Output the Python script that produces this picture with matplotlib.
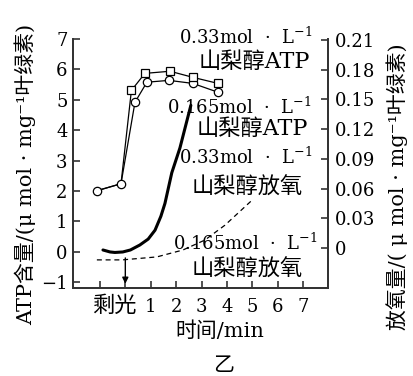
import matplotlib
matplotlib.use("Agg")
import matplotlib.pyplot as plt

plt.rcParams['font.family'] = ['DejaVu Serif', 'Noto Sans CJK SC']
plt.rcParams['mathtext.fontset'] = 'dejavuserif'

# ATP content (left axis), time in min (0 = light off)
base_t = [-1.12, -0.17]
base_atp = [2.01, 2.24]
sq_t = [0.24, 0.77, 1.76, 2.66, 3.65]          # 0.33 mol/L sorbitol ATP
sq_atp = [5.31, 5.87, 5.94, 5.74, 5.54]
ci_t = [0.38, 0.85, 1.72, 2.66, 3.65]          # 0.165 mol/L sorbitol ATP
ci_atp = [4.92, 5.58, 5.64, 5.54, 5.25]

# O2 evolution (right axis)
o2_hi_t = [-0.88, -0.6, -0.41, -0.1, 0.2, 0.57, 0.9, 1.17, 1.4, 1.56, 1.83, 2.15, 2.58]
o2_hi = [-0.002, -0.004, -0.0045, -0.004, -0.002, 0.003, 0.009, 0.018, 0.032,
         0.045, 0.076, 0.101, 0.144]
o2_lo_t = [-1.12, -0.12, 1.24, 2.27, 3.13, 3.92, 5.02]
o2_lo = [-0.012, -0.012, -0.009, -0.002, 0.008, 0.023, 0.049]

xticks = [-1, 0, 1, 2, 3, 4, 5, 6, 7]
xticklabels = ['', '', '1', '2', '3', '4', '5', '6', '7']
yticks_left = [-1, 0, 1, 2, 3, 4, 5, 6, 7]
yticks_right = [0, 0.03, 0.06, 0.09, 0.12, 0.15, 0.18, 0.21]

fig = plt.figure(figsize=(4.14, 3.76), dpi=100)
ax = fig.add_axes([0.1763, 0.2340, 0.616, 0.6622])
ax2 = ax.twinx()

spine_c = '#333333'
for a in (ax, ax2):
    a.patch.set_visible(False)
    a.spines['top'].set_visible(False)
    for s in a.spines.values():
        s.set_color(spine_c)
        s.set_linewidth(1.3)

ax.set_xlim(-2.06, 7.98)
ax.set_ylim(-1.19, 7.0)
ax2.set_ylim(-0.0404, 0.211)

ax.set_xticks(xticks, labels=xticklabels)
ax.set_xticks([-0.42], labels=['剩光'], minor=True)
ax.set_yticks(yticks_left, labels=['−1'] + [str(v) for v in yticks_left[1:]])
ax2.set_yticks(yticks_right, labels=['0'] + ['%.2f' % v for v in yticks_right[1:]])

ax.tick_params(axis='both', which='major', direction='in', length=5, width=1.2,
               color=spine_c, labelsize=13, pad=4)
ax.tick_params(axis='x', which='major', pad=7)
ax.tick_params(axis='x', which='minor', length=0, labelsize=16, pad=5)
ax2.tick_params(axis='y', direction='in', length=5, width=1.2, color=spine_c,
                labelsize=13, pad=5)

# ATP curves
ax.plot(base_t + sq_t, base_atp + sq_atp, color='black', lw=0.9)
ax.plot(base_t + ci_t, base_atp + ci_atp, color='black', lw=0.9)
ax.plot(base_t + ci_t, base_atp + ci_atp, 'o', ms=6, mfc='white', mec='black', mew=0.9)
ax.plot(sq_t, sq_atp, 's', ms=5.5, mfc='white', mec='black', mew=0.9)

# O2 curves
ax2.plot(o2_hi_t, o2_hi, color='black', lw=2.2, solid_capstyle='round')
ax2.plot(o2_lo_t, o2_lo, color='black', lw=0.9, ls=(0, (4, 3)))

# light-off arrow
ax.annotate('', xy=(0, -1.05), xytext=(0, -0.2),
            arrowprops=dict(arrowstyle='-|>', color='black', lw=1.0,
                            mutation_scale=9, shrinkA=0, shrinkB=0))

# curve labels
num = dict(ha='right', va='center', fontsize=13, clip_on=False)
cjk = dict(ha='right', va='center', fontsize=16, clip_on=False)
ax.text(7.35, 7.06, '0.33mol  ·  L$^{-1}$', **num)
ax.text(7.27, 6.24, '山梨醇ATP', **cjk)
ax.text(7.35, 4.75, '0.165mol  ·  L$^{-1}$', **num)
ax.text(7.19, 4.03, '山梨醇ATP', **cjk)
ax.text(7.35, 3.10, '0.33mol  ·  L$^{-1}$', **num)
ax.text(6.99, 2.11, '山梨醇放氧', **cjk)
ax.text(7.58, 0.30, '0.165mol  ·  L$^{-1}$', **num)
ax.text(6.99, -0.59, '山梨醇放氧', **cjk)

fig.text(0.060, 0.535, 'ATP含量/(μ mol · mg⁻¹叶绿素)', rotation=90,
         ha='center', va='center', fontsize=15)
fig.text(0.959, 0.503, '放氧量/( μ mol · mg⁻¹叶绿素)', rotation=90,
         ha='center', va='center', fontsize=15)
fig.text(0.531, 0.1197, '时间/min', ha='center', va='center', fontsize=15)
fig.text(0.539, 0.0266, '乙', ha='center', va='center', fontsize=15)

fig.savefig('out.png', dpi=100)
